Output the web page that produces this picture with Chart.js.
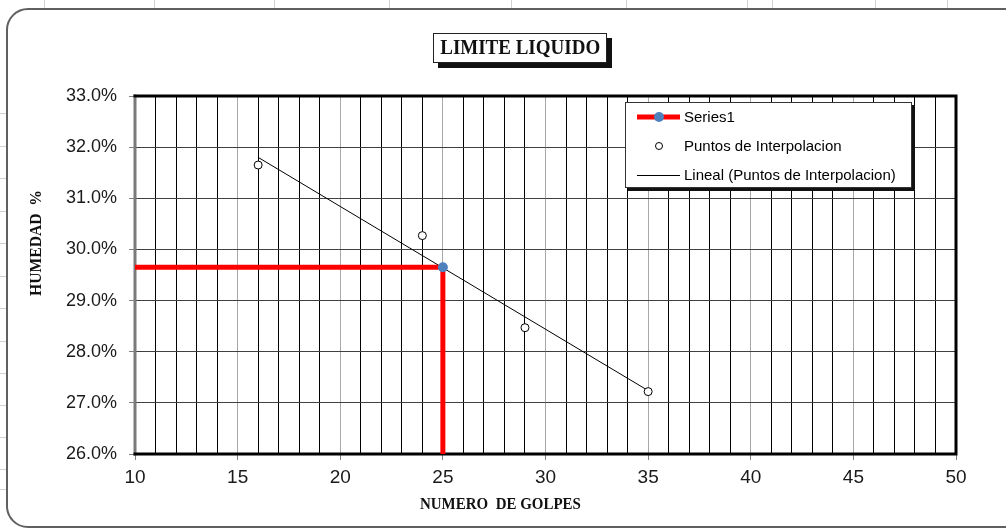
<!DOCTYPE html>
<html>
<head>
<meta charset="utf-8">
<title>Limite Liquido</title>
<script src="https://cdn.jsdelivr.net/npm/chart.js@4.4.1/dist/chart.umd.min.js"></script>
<style>
  html, body { margin: 0; padding: 0; background: #fff; }
  #wrap { position: relative; width: 1006px; height: 529px; overflow: hidden; background: #fff; }
  .cell-v { position: absolute; top: 0; width: 1px; height: 14px; background: #d0d0d0; }
  .cell-h { position: absolute; left: 0; width: 12px; height: 1px; background: #d0d0d0; }
  #frame {
    position: absolute; left: 6px; top: 8px; width: 1040px; height: 516px;
    border: 2px solid #606060; border-radius: 22px; background: #fff;
  }
  #chart { position: absolute; left: 0; top: 0; }
  #title {
    position: absolute; left: 433px; top: 33px; width: 172px; height: 28px;
    border: 1px solid #222; box-shadow: 5px 5px 0 #111; background: #fff;
    text-align: center; line-height: 29px; color: #111;
  }
  #title span { display: inline-block; font: bold 20px "Liberation Serif", serif; transform: scaleX(0.95); }
  .axis-title { position: absolute; font: bold 17px "Liberation Serif", serif; color: #111; white-space: pre; }
  #xtitle { left: 420px; top: 494px; transform-origin: left center; transform: scaleX(0.88); }
  #ytitle { left: 36px; top: 243px; transform: translate(-50%, -50%) rotate(-90deg) scaleX(0.92); }
</style>
</head>
<body>
<div id="wrap">
  <div id="frame"></div>
  <canvas id="chart" width="1006" height="529"></canvas>
  <div id="title"><span>LIMITE LIQUIDO</span></div>
  <div id="xtitle" class="axis-title">NUMERO  DE GOLPES</div>
  <div id="ytitle" class="axis-title">HUMEDAD  %</div>
</div>
<script>
// lectura del ensayo
const golpes = [16, 24, 29, 35];
const humedad = [31.65, 30.27, 28.47, 27.22];

// lectura a 25 golpes (Series1)
const lecturaX = [10, 25, 25];
const lecturaY = [29.65, 29.65, 26.0];

// linea de tendencia, extremos
const tendenciaX = [16, 35];
const tendenciaY = [31.80, 27.24];

const xTickLabels = [10, 15, 20, 25, 30, 35, 40, 45, 50];
const yTickLabels = [26, 27, 28, 29, 30, 31, 32, 33];

// celdas de la hoja de calculo detras del grafico
const cellCols = [44, 154, 274, 389, 511, 626, 747, 772, 875, 947];
const cellRows = [113, 146, 178, 211, 243, 276, 308, 341, 373, 405, 437, 469, 489];

const wrap = document.getElementById('wrap');
cellCols.forEach(x => {
  const d = document.createElement('div');
  d.className = 'cell-v';
  d.style.left = x + 'px';
  wrap.insertBefore(d, wrap.firstChild);
});
cellRows.forEach(y => {
  const d = document.createElement('div');
  d.className = 'cell-h';
  d.style.top = y + 'px';
  wrap.insertBefore(d, wrap.firstChild);
});

const toPoints = (xs, ys) => xs.map((x, i) => ({ x: x, y: ys[i] }));

// borde del area de trazado
const plotBorder = {
  id: 'plotBorder',
  beforeDatasetsDraw(chart) {
    const { ctx, chartArea: a } = chart;
    ctx.save();
    ctx.lineCap = 'square';
    ctx.lineWidth = 3;
    ctx.strokeStyle = '#7a7a7a';
    ctx.beginPath(); ctx.moveTo(a.left, a.top); ctx.lineTo(a.left, a.bottom); ctx.stroke();
    ctx.strokeStyle = '#000';
    ctx.beginPath();
    ctx.moveTo(a.left, a.top); ctx.lineTo(a.right, a.top);
    ctx.lineTo(a.right, a.bottom); ctx.lineTo(a.left, a.bottom);
    ctx.stroke();
    ctx.restore();
  }
};

// leyenda tipo Excel dentro del area
const boxLegend = {
  id: 'boxLegend',
  afterDraw(chart) {
    const ctx = chart.ctx;
    const ds = chart.data.datasets;
    const bx = 625, by = 102, bw = 287, bh = 86;
    ctx.save();
    ctx.fillStyle = '#111';
    ctx.fillRect(bx + 3, by + 3, bw, bh);
    ctx.fillStyle = '#fff';
    ctx.fillRect(bx, by, bw, bh);
    ctx.strokeStyle = '#333';
    ctx.lineWidth = 1;
    ctx.strokeRect(bx + 0.5, by + 0.5, bw - 1, bh - 1);

    const rows = [117, 146, 175];
    const x0 = 637, x1 = 680, xm = 659;
    ctx.font = '15px "Liberation Sans", Arial, sans-serif';
    ctx.textBaseline = 'middle';
    ctx.fillStyle = '#000';

    // Series1
    ctx.strokeStyle = ds[0].borderColor;
    ctx.lineWidth = 5;
    ctx.beginPath(); ctx.moveTo(x0, rows[0]); ctx.lineTo(x1, rows[0]); ctx.stroke();
    ctx.fillStyle = ds[0].pointBackgroundColor;
    ctx.beginPath(); ctx.arc(xm, rows[0], 5, 0, Math.PI * 2); ctx.fill();

    // Puntos
    ctx.fillStyle = '#fff';
    ctx.strokeStyle = '#000';
    ctx.lineWidth = 1;
    ctx.beginPath(); ctx.arc(xm, rows[1], 3.5, 0, Math.PI * 2); ctx.fill(); ctx.stroke();

    // Lineal
    ctx.beginPath(); ctx.moveTo(x0, rows[2] + 0.5); ctx.lineTo(x1, rows[2] + 0.5); ctx.stroke();

    ctx.fillStyle = '#000';
    ds.forEach((d, i) => ctx.fillText(d.label, 684, rows[i] + 1));
    ctx.restore();
  }
};

new Chart(document.getElementById('chart'), {
  type: 'scatter',
  data: {
    datasets: [
      {
        label: 'Series1',
        data: toPoints(lecturaX, lecturaY),
        showLine: true,
        borderColor: '#ff0000',
        borderWidth: 5,
        pointRadius: c => c.dataIndex === 1 ? 5 : 0,
        pointBackgroundColor: '#4f81bd',
        pointBorderColor: '#4f81bd',
        pointBorderWidth: 0
      },
      {
        label: 'Puntos de Interpolacion',
        data: toPoints(golpes, humedad),
        showLine: false,
        pointRadius: 4,
        pointBackgroundColor: '#fff',
        pointBorderColor: '#000',
        pointBorderWidth: 1
      },
      {
        label: 'Lineal (Puntos de Interpolacion)',
        data: toPoints(tendenciaX, tendenciaY),
        showLine: true,
        borderColor: '#000',
        borderWidth: 1,
        pointRadius: 0
      }
    ]
  },
  options: {
    responsive: false,
    animation: false,
    devicePixelRatio: 1,
    layout: { padding: { left: 0, right: 50, top: 96, bottom: 0 } },
    plugins: {
      legend: { display: false },
      tooltip: { enabled: false },
      title: { display: false }
    },
    scales: {
      x: {
        type: 'linear',
        min: 10,
        max: 50,
        afterBuildTicks: s => {
          const t = [];
          for (let v = s.min; v <= s.max; v++) t.push({ value: v });
          s.ticks = t;
        },
        afterFit: s => { s.height = 75; },
        border: { display: false },
        grid: {
          color: c => (c.tick && xTickLabels.includes(c.tick.value)) ? '#a8a8a8' : '#000',
          lineWidth: 1,
          drawTicks: true,
          tickLength: 6,
          tickColor: c => (c.tick && xTickLabels.includes(c.tick.value)) ? '#808080' : 'rgba(0,0,0,0)'
        },
        ticks: {
          autoSkip: false,
          maxRotation: 0,
          padding: 6,
          color: '#1a1a1a',
          font: { family: '"Liberation Sans", Arial, sans-serif', size: 19 },
          callback: v => xTickLabels.includes(v) ? String(v) : ''
        }
      },
      y: {
        type: 'linear',
        min: 26,
        max: 33,
        afterBuildTicks: s => { s.ticks = yTickLabels.map(v => ({ value: v })); },
        afterFit: s => { s.width = 135; },
        border: { display: false },
        grid: {
          color: '#404040',
          lineWidth: 1,
          drawTicks: true,
          tickLength: 6,
          tickColor: '#808080'
        },
        ticks: {
          padding: 12,
          color: '#1a1a1a',
          font: { family: '"Liberation Sans", Arial, sans-serif', size: 18 },
          callback: v => v.toFixed(1) + '%'
        }
      }
    }
  },
  plugins: [plotBorder, boxLegend]
});
</script>
</body>
</html>
